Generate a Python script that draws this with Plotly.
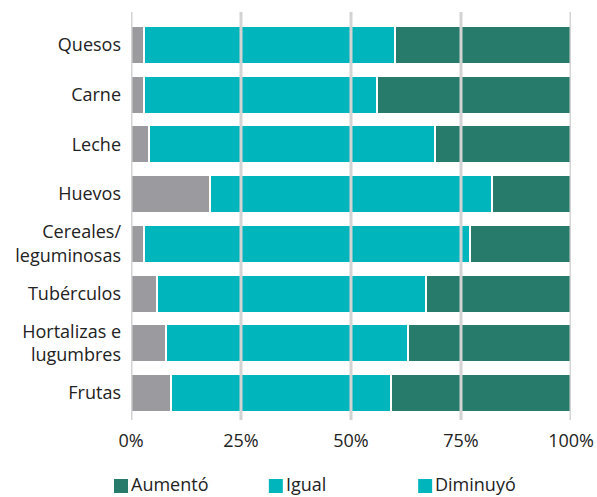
import plotly.graph_objects as go

categories = ["Quesos", "Carne", "Leche", "Huevos", "Cereales/<br>leguminosas",
              "Tubérculos", "Hortalizas e<br>lugumbres", "Frutas"]
diminuyo = [3, 3, 4, 18, 3, 6, 8, 9]
igual = [57, 53, 65, 64, 74, 61, 55, 50]
aumento = [40, 44, 31, 18, 23, 33, 37, 41]
tick_vals = [0, 25, 50, 75, 100]
tick_text = ["0%", "25%", "50%", "75%", "100%"]
legend_names = ["Aumentó", "Igual", "Diminuyó"]

GREEN = "#267B6A"
TEAL = "#00B5BC"
GRAY = "#9A9A9F"
legend_colors = [GREEN, TEAL, TEAL]
FONT = "Open Sans"
TXT = "#222222"

W, H = 597, 497
ML, MR, MT, MB = 131, 25.5, 12, 77
PW, PH = W - ML - MR, H - MT - MB


def px_x(px):
    return (px - ML) / PW


def px_y(py):
    return (H - MB - py) / PH


fig = go.Figure()
line = dict(color="white", width=2)
fig.add_trace(go.Bar(y=categories, x=diminuyo, orientation="h", name="Diminuyó",
                     marker=dict(color=GRAY, line=line), width=0.76))
fig.add_trace(go.Bar(y=categories, x=igual, orientation="h", name="Igual",
                     marker=dict(color=TEAL, line=line), width=0.76))
fig.add_trace(go.Bar(y=categories, x=aumento, orientation="h", name="Aumentó",
                     marker=dict(color=GREEN, line=line), width=0.76))

for v in tick_vals:
    fig.add_shape(type="line", xref="x", yref="paper", x0=v, x1=v, y0=0, y1=1,
                  line=dict(color="#D3D3D3", width=3), layer="above")

# legend (manual, to match the original placement)
leg_sq_left = [114, 269, 418.5]
for name, col, sx in zip(legend_names, legend_colors, leg_sq_left):
    fig.add_shape(type="rect", xref="paper", yref="paper",
                  x0=px_x(sx), x1=px_x(sx + 14), y0=px_y(479), y1=px_y(493),
                  fillcolor=col, line=dict(width=0), layer="above")
    fig.add_annotation(xref="paper", yref="paper", x=px_x(sx + 16), y=px_y(484),
                       text=name, showarrow=False, xanchor="left", yanchor="middle",
                       borderpad=0,
                       font=dict(family=FONT, size=18, color=TXT))

fig.update_layout(
    barmode="stack",
    width=W, height=H,
    margin=dict(l=ML, r=MR, t=MT, b=MB, autoexpand=False),
    plot_bgcolor="white", paper_bgcolor="white",
    font=dict(family=FONT, size=18, color=TXT),
    showlegend=False,
    xaxis=dict(range=[0, 100], tickvals=tick_vals, ticktext=tick_text,
               showgrid=False, zeroline=False, showline=False, automargin=False,
               ticks="", ticklabelstandoff=8, fixedrange=True),
    yaxis=dict(categoryorder="array", categoryarray=categories,
               range=[7.54, -0.66], showgrid=False, zeroline=False, automargin=False,
               showline=False, ticks="", ticklabelstandoff=9),
)

fig.write_html("out.html", config={"displayModeBar": False},
               post_script="document.body.style.margin='0';document.body.style.overflow='hidden';")
